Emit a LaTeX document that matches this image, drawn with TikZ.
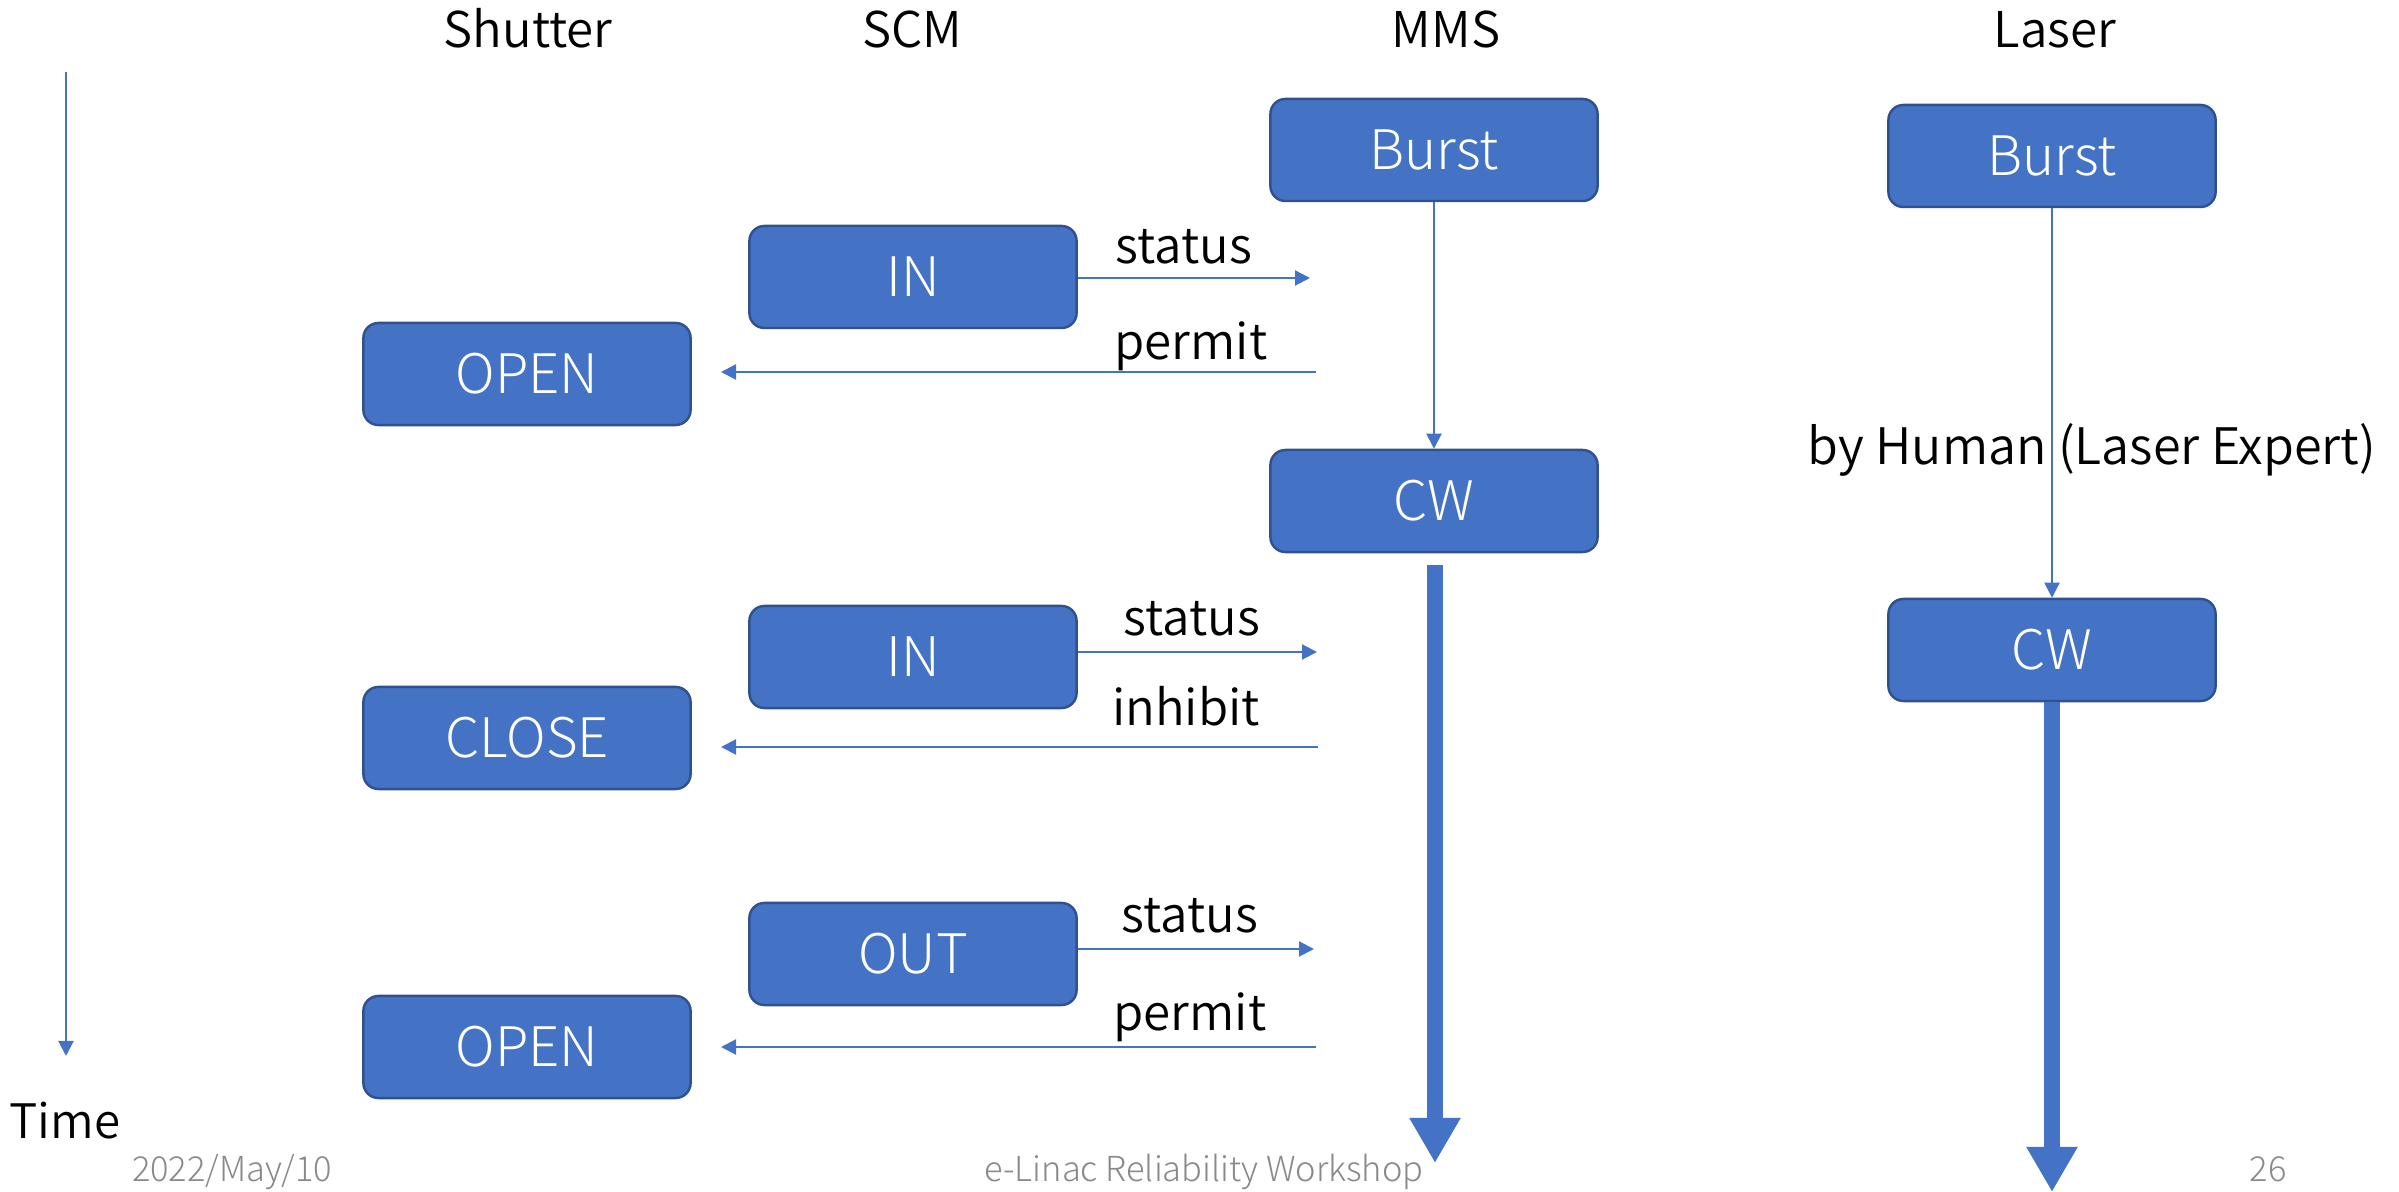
\documentclass[tikz,border=0pt]{standalone}
\usepackage{fontspec}
\setmainfont{Noto Sans CJK JP DemiLight}
\newfontfamily\thinfont{Noto Sans CJK JP Light}
\usetikzlibrary{arrows.meta}

\definecolor{boxfill}{HTML}{4472C4}
\definecolor{boxline}{HTML}{2F528F}
\definecolor{footgray}{HTML}{898989}

\tikzset{
  statebox/.style={rounded corners=0.15cm, fill=boxfill, draw=boxline,
    line width=0.7pt, minimum width=3.27cm, minimum height=1.02cm,
    text=white, inner sep=0pt, font=\thinfont\fontsize{15.5}{18}\selectfont},
  header/.style={anchor=base, font=\fontsize{14}{17}\selectfont},
  msglabel/.style={anchor=base, font=\fontsize{14}{17}\selectfont},
  footer/.style={anchor=base, text=footgray, font=\thinfont\fontsize{9.8}{11}\selectfont},
  signal/.style={draw=boxfill, line width=0.6pt, -{Triangle[length=0.15cm,width=0.15cm]}},
  flow/.style={draw=boxfill, line width=0.16cm, -{Triangle[length=0.45cm,width=0.48cm]}}
}

\begin{document}
\begin{tikzpicture}[x=0.01cm, y=-0.01cm]
  \useasboundingbox (0,0) rectangle (2399,1192);

  % column headers
  \node[header] (hsh)  at (528,48)  {Shutter};
  \node[header] (hscm) at (912,48)  {SCM};
  \node[header] (hmms) at (1446,48) {MMS};
  \node[header] (hlas) at (2055,48) {Laser};

  % time axis
  \coordinate (t0) at (66,72);
  \coordinate (t1) at (66,1056);
  \draw[signal] (t0) -- (t1);
  \node[anchor=base, font=\fontsize{13.5}{16}\selectfont] (time) at (65,1139) {Time};

  % state boxes
  \node[statebox] (sh1)  at (527,374)  {OPEN};
  \node[statebox] (sh2)  at (527,738)  {CLOSE};
  \node[statebox] (sh3)  at (527,1047) {OPEN};
  \node[statebox] (scm1) at (913,277)  {IN};
  \node[statebox] (scm2) at (913,657)  {IN};
  \node[statebox] (scm3) at (913,954)  {OUT};
  \node[statebox] (mms1) at (1434,150) {Burst};
  \node[statebox] (mms2) at (1434,501) {CW};
  \node[statebox] (las1) at (2052,156) {Burst};
  \node[statebox] (las2) at (2052,650) {CW};

  % SCM status messages towards MMS
  \coordinate (s1e) at (1310,278);
  \coordinate (s2e) at (1317,652);
  \coordinate (s3e) at (1314,949);
  \draw[signal] (scm1.east |- s1e) -- (s1e);
  \draw[signal] (scm2.east |- s2e) -- (s2e);
  \draw[signal] (scm3.east |- s3e) -- (s3e);
  \node[msglabel] (ls1) at (1184,264) {status};
  \node[msglabel] (ls2) at (1192,636) {status};
  \node[msglabel] (ls3) at (1190,933) {status};

  % MMS replies towards the shutter
  \coordinate (p1s) at (1316,372);
  \coordinate (p1e) at (721,372);
  \coordinate (p2s) at (1318,747);
  \coordinate (p2e) at (721,747);
  \coordinate (p3s) at (1316,1047);
  \coordinate (p3e) at (721,1047);
  \draw[signal] (p1s) -- (p1e);
  \draw[signal] (p2s) -- (p2e);
  \draw[signal] (p3s) -- (p3e);
  \node[msglabel] (lp1) at (1191,360)  {permit};
  \node[msglabel] (lp2) at (1186,726)  {inhibit};
  \node[msglabel] (lp3) at (1190,1031) {permit};

  % MMS mode change and CW run
  \draw[signal] (mms1.south) -- (mms2.north);
  \coordinate (mmsrun0) at (1435,565);
  \coordinate (mmsrun1) at (1435,1163);
  \draw[flow] (mmsrun0) -- (mmsrun1);

  % laser mode change and CW run
  \draw[signal] (las1.south) -- (las2.north);
  \node[msglabel, font=\fontsize{14.3}{17}\selectfont] (human) at (2092,465) {by Human (Laser Expert)};
  \coordinate (lasrun1) at (2052,1192);
  \draw[flow] (las2.south) -- (lasrun1);

  % footer
  \node[footer] (fdate)  at (232,1182)  {2022/May/10};
  \node[footer] (ftitle) at (1204,1182) {e-Linac Reliability Workshop};
  \node[footer] (fpage)  at (2268,1182) {26};
\end{tikzpicture}
\end{document}
